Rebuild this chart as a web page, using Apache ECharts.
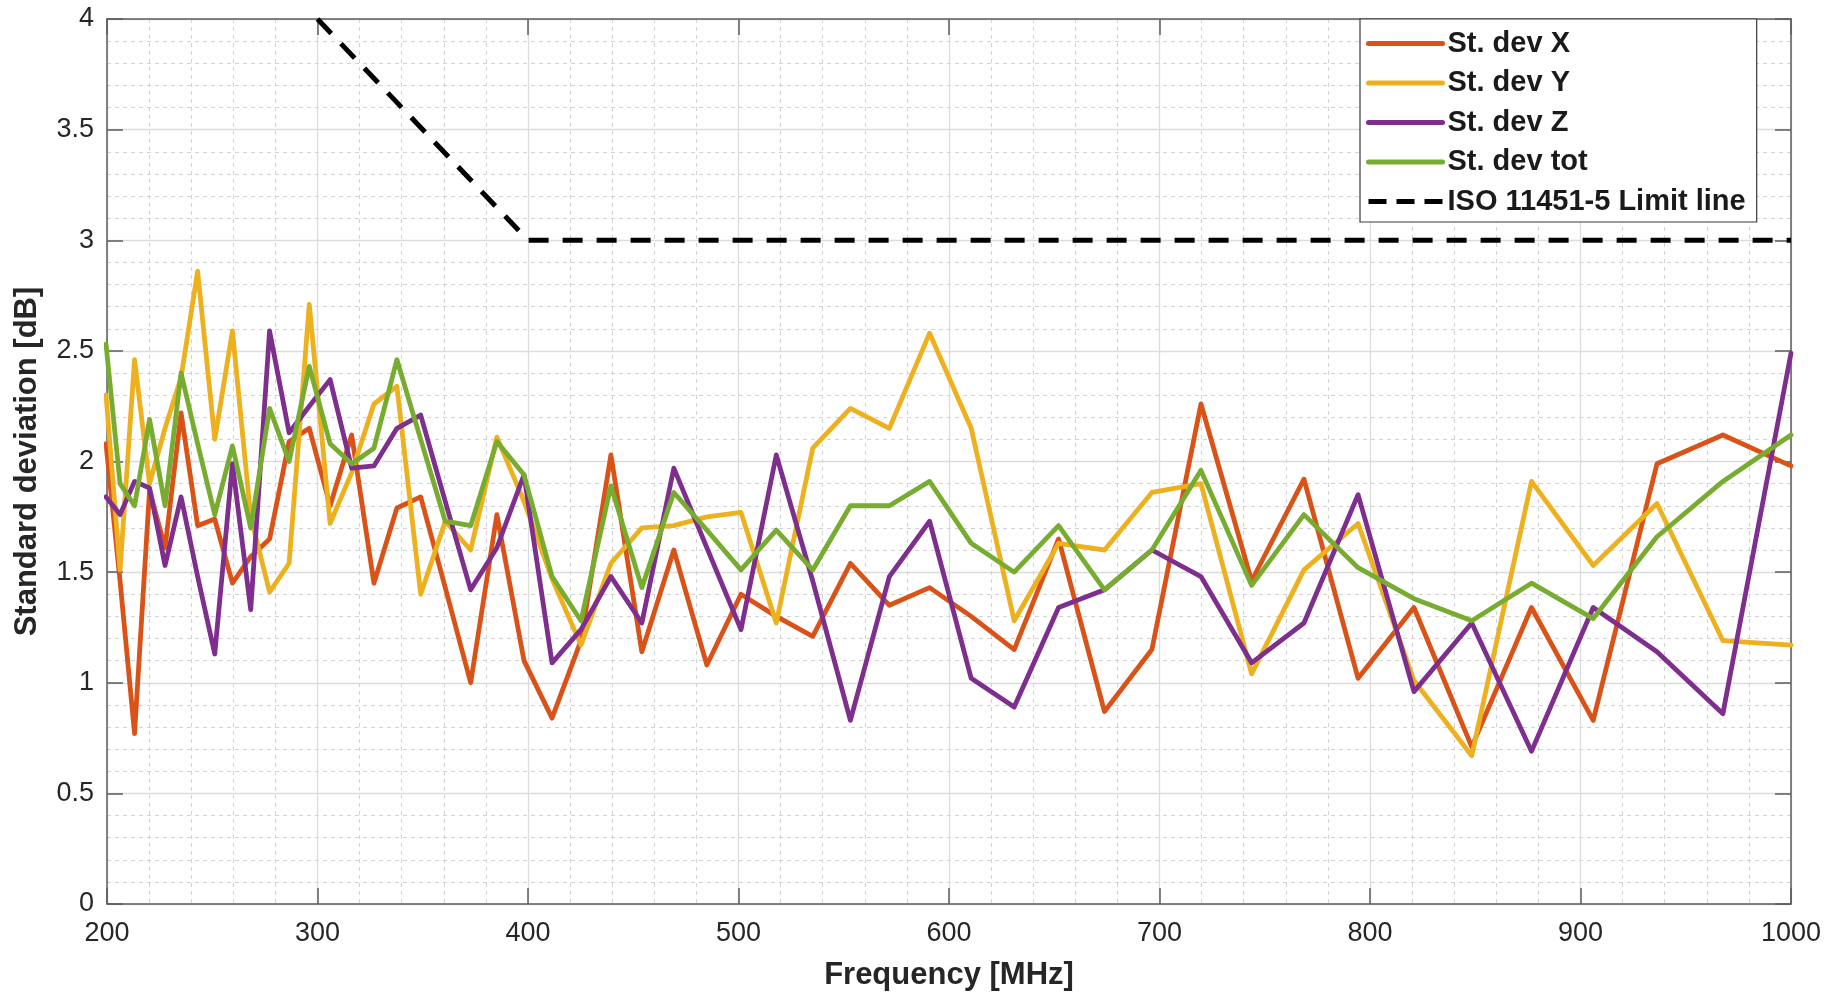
<!DOCTYPE html>
<html>
<head>
<meta charset="utf-8">
<script src="https://cdn.jsdelivr.net/npm/echarts@6/dist/echarts.min.js"></script>
<style>
  html, body { margin: 0; padding: 0; background: #ffffff; }
  #chart { width: 1834px; height: 998px; }
</style>
</head>
<body>
<div id="chart"></div>
<script>
// Frequency points [MHz]
var freq = [199.53, 206.20, 213.09, 220.22, 227.58, 235.19, 243.06, 251.19, 259.59, 268.27,
            277.24, 286.51, 296.09, 305.99, 316.23, 326.80, 337.73, 349.02, 360.69, 372.76,
            385.22, 398.10, 411.42, 425.17, 439.39, 454.09, 469.27, 484.97, 501.18, 517.95,
            535.27, 553.16, 571.66, 590.78, 610.54, 630.96, 652.06, 673.86, 696.40, 719.69,
            743.76, 768.63, 794.33, 820.89, 848.34, 876.71, 906.03, 936.33, 967.64, 1000];

var stdX = [2.08, 1.46, 0.77, 1.87, 1.61, 2.22, 1.71, 1.74, 1.45, 1.57,
            1.65, 2.09, 2.15, 1.80, 2.12, 1.45, 1.79, 1.84, 1.43, 1.00,
            1.76, 1.10, 0.84, 1.19, 2.03, 1.14, 1.60, 1.08, 1.40, 1.30,
            1.21, 1.54, 1.35, 1.43, 1.30, 1.15, 1.65, 0.87, 1.15, 2.26,
            1.46, 1.92, 1.02, 1.34, 0.71, 1.34, 0.83, 1.99, 2.12, 1.98];

var stdY = [2.30, 1.51, 2.46, 1.90, 2.15, 2.38, 2.86, 2.10, 2.59, 1.75,
            1.41, 1.54, 2.71, 1.72, 1.95, 2.26, 2.34, 1.40, 1.73, 1.60,
            2.11, 1.82, 1.47, 1.17, 1.54, 1.70, 1.71, 1.75, 1.77, 1.27,
            2.06, 2.24, 2.15, 2.58, 2.15, 1.28, 1.63, 1.60, 1.86, 1.90,
            1.04, 1.51, 1.72, 1.01, 0.67, 1.91, 1.53, 1.81, 1.19, 1.17];

var stdZ = [1.84, 1.76, 1.91, 1.88, 1.53, 1.84, 1.48, 1.13, 1.99, 1.33,
            2.59, 2.13, 2.25, 2.37, 1.97, 1.98, 2.15, 2.21, 1.82, 1.42,
            1.61, 1.94, 1.09, 1.24, 1.48, 1.27, 1.97, 1.61, 1.24, 2.03,
            1.46, 0.83, 1.48, 1.73, 1.02, 0.89, 1.34, 1.42, 1.60, 1.48,
            1.09, 1.27, 1.85, 0.96, 1.27, 0.69, 1.34, 1.14, 0.86, 2.49];

var stdTot = [2.53, 1.90, 1.80, 2.19, 1.80, 2.40, 2.08, 1.76, 2.07, 1.70,
              2.24, 2.00, 2.43, 2.08, 1.99, 2.06, 2.46, 2.10, 1.73, 1.71,
              2.09, 1.94, 1.48, 1.28, 1.89, 1.43, 1.86, 1.69, 1.51, 1.69,
              1.51, 1.80, 1.80, 1.91, 1.63, 1.50, 1.71, 1.42, 1.60, 1.96,
              1.44, 1.76, 1.52, 1.38, 1.28, 1.45, 1.29, 1.66, 1.91, 2.12];

var limitFreq = [300, 400, 1000];
var limitVal = [4, 3, 3];

var seriesNames = ['St. dev X', 'St. dev Y', 'St. dev Z', 'St. dev tot', 'ISO 11451-5 Limit line'];
var seriesColors = ['#D95319', '#EDB120', '#7E2F8E', '#77AC30', '#000000'];

var xTicks = [200, 1000, 100];
var yTicks = [0, 4, 0.5];

function pairs(xs, ys) {
  var out = [];
  for (var i = 0; i < xs.length; i++) out.push([xs[i], ys[i]]);
  return out;
}

var FONT = "'Liberation Sans', Arial, Helvetica, sans-serif";
var axisLineColor = '#5c5c5c';
var textColor = '#262626';

var chart = echarts.init(document.getElementById('chart'), null, { renderer: 'canvas' });

function mkLine(idx, ys, xs) {
  return {
    name: seriesNames[idx],
    type: 'line',
    xAxisIndex: 0,
    yAxisIndex: 0,
    data: pairs(xs || freq, ys),
    symbol: 'none',
    showSymbol: false,
    smooth: false,
    clip: true,
    animation: false,
    color: seriesColors[idx],
    lineStyle: { color: seriesColors[idx], width: 4.8, join: 'round', cap: 'round' }
  };
}

var limitSeries = mkLine(4, limitVal, limitFreq);
limitSeries.lineStyle = { color: '#000000', width: 5, type: [20, 14], cap: 'butt' };

var baseXAxis = {
  type: 'value', min: xTicks[0], max: xTicks[1], interval: xTicks[2]
};
var baseYAxis = {
  type: 'value', min: yTicks[0], max: yTicks[1], interval: yTicks[2]
};

var legendData = seriesNames.map(function (n, i) {
  var item = { name: n };
  if (i === 4) item.lineStyle = { type: [18, 10], width: 5, color: '#000000' };
  else item.lineStyle = { width: 5, color: seriesColors[i] };
  return item;
});

var option = {
  backgroundColor: '#ffffff',
  animation: false,
  textStyle: { fontFamily: FONT },
  grid: { left: 107, right: 43, top: 19, bottom: 94, show: false },
  legend: {
    orient: 'vertical',
    left: 1360,
    top: 19,
    padding: [10, 11, 6, 6],
    itemGap: 10.5,
    itemWidth: 74,
    itemHeight: 28,
    backgroundColor: '#ffffff',
    borderColor: '#3a3a3a',
    borderWidth: 1.2,
    borderRadius: 0,
    itemStyle: { opacity: 0 },
    data: legendData,
    textStyle: { fontFamily: FONT, fontSize: 29, fontWeight: 'bold', color: '#1a1a1a', lineHeight: 28 }
  },
  xAxis: [
    Object.assign({}, baseXAxis, {
      position: 'bottom',
      name: 'Frequency [MHz]',
      nameLocation: 'middle',
      nameGap: 56,
      nameTextStyle: { fontFamily: FONT, fontSize: 31, fontWeight: 'bold', color: textColor },
      axisLine: { show: true, onZero: false, lineStyle: { color: axisLineColor, width: 1.5 } },
      axisTick: { show: true, inside: true, length: 16, lineStyle: { color: axisLineColor, width: 1.5 } },
      axisLabel: { fontFamily: FONT, fontSize: 27, color: textColor, margin: 16,
                   formatter: function (v) { return String(v); } },
      splitLine: { show: true, lineStyle: { color: '#dcdcdc', width: 1.3 } },
      minorTick: { show: false, splitNumber: 5 },
      minorSplitLine: { show: true, lineStyle: { color: '#d2d2d2', width: 1, type: [4, 4] } }
    }),
    Object.assign({}, baseXAxis, {
      position: 'top',
      axisLine: { show: true, onZero: false, lineStyle: { color: axisLineColor, width: 1.5 } },
      axisTick: { show: true, inside: true, length: 16, lineStyle: { color: axisLineColor, width: 1.5 } },
      axisLabel: { show: false },
      splitLine: { show: false }
    })
  ],
  yAxis: [
    Object.assign({}, baseYAxis, {
      position: 'left',
      name: 'Standard deviation [dB]',
      nameLocation: 'middle',
      nameGap: 64,
      nameTextStyle: { fontFamily: FONT, fontSize: 31, fontWeight: 'bold', color: textColor },
      axisLine: { show: true, onZero: false, lineStyle: { color: axisLineColor, width: 1.5 } },
      axisTick: { show: true, inside: true, length: 16, lineStyle: { color: axisLineColor, width: 1.5 } },
      axisLabel: { fontFamily: FONT, fontSize: 27, color: textColor, margin: 13,
                   formatter: function (v) { return String(v); } },
      splitLine: { show: true, lineStyle: { color: '#dcdcdc', width: 1.3 } },
      minorTick: { show: false, splitNumber: 5 },
      minorSplitLine: { show: true, lineStyle: { color: '#d2d2d2', width: 1, type: [4, 4] } }
    }),
    Object.assign({}, baseYAxis, {
      position: 'right',
      axisLine: { show: true, onZero: false, lineStyle: { color: axisLineColor, width: 1.5 } },
      axisTick: { show: true, inside: true, length: 16, lineStyle: { color: axisLineColor, width: 1.5 } },
      axisLabel: { show: false },
      splitLine: { show: false }
    })
  ],
  series: [
    mkLine(0, stdX),
    mkLine(1, stdY),
    mkLine(2, stdZ),
    mkLine(3, stdTot),
    limitSeries
  ]
};

chart.setOption(option);
</script>
</body>
</html>
